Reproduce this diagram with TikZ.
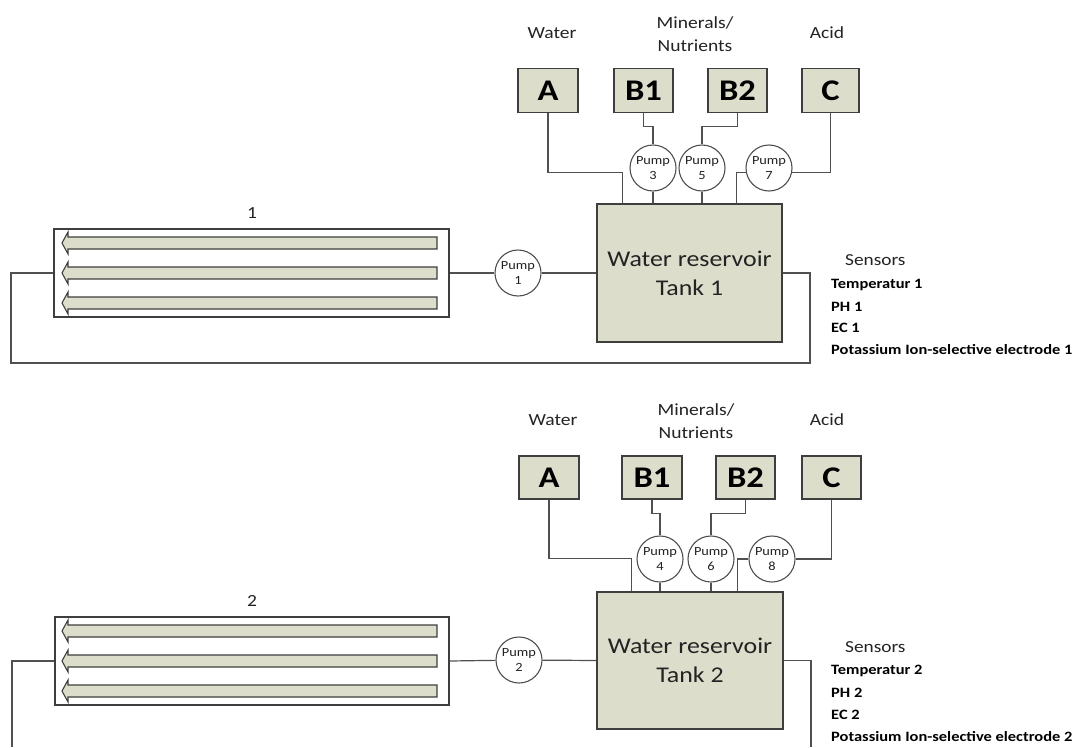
\documentclass[tikz,border=0pt]{standalone}
\usepackage{fontspec}
\setmainfont{Carlito}[FakeStretch=1.15]
\usetikzlibrary{calc}
\definecolor{boxfill}{RGB}{220,221,203}
\definecolor{linec}{RGB}{80,80,80}
\definecolor{edgec}{RGB}{62,62,62}
\definecolor{txt}{RGB}{35,35,35}
\newcommand\flowarrow[1]{\draw[flow] (437,#1-6) -- (68,#1-6) -- (68,#1-11) -- (62,#1) -- (68,#1+11) -- (68,#1+6) -- (437,#1+6) -- cycle;}
\begin{document}
\begin{tikzpicture}[x=1pt,y=-1pt,
  pipe/.style={draw=linec,line width=1.2pt},
  srcbox/.style={draw=edgec,fill=boxfill,line width=1.4pt,minimum width=59pt,minimum height=44pt,inner sep=0pt,font=\fontsize{30}{32}\selectfont\bfseries,text=black},
  pumpc/.style={circle,draw=linec,fill=white,line width=1.1pt,minimum size=46pt,inner sep=0pt,align=center,font=\fontsize{12.5}{15.5}\selectfont,text=txt},
  tankbox/.style={draw=edgec,fill=boxfill,line width=1.4pt,inner sep=0pt,align=center,font=\fontsize{22.5}{29}\selectfont,text=txt},
  gutter/.style={draw=edgec,fill=white,line width=1.2pt,inner sep=0pt,minimum width=395pt,minimum height=88pt},
  flow/.style={draw=edgec,fill=boxfill,line width=1.1pt},
  lbl/.style={font=\fontsize{17}{23}\selectfont,text=txt,inner sep=0pt,align=center},
  senshead/.style={font=\fontsize{16.8}{20}\selectfont,text=txt,inner sep=0pt,anchor=west},
  sens/.style={font=\fontsize{14.3}{16}\selectfont\bfseries,text=black,inner sep=0pt,anchor=west},
]
\useasboundingbox (0,0) rectangle (1079,747);
\fill[white] (0,0) rectangle (1079,747);

% ================= Section 1 =================
\node[lbl] (w1) at (552,33) {Water};
\node[lbl] (m1) at (695,34) {Minerals/\\Nutrients};
\node[lbl] (ac1) at (827,33) {Acid};

\node[srcbox,minimum width=60pt] (A1) at (548,90.5) {A};
\node[srcbox] (B11) at (643.5,90.5) {B1};
\node[srcbox] (B21) at (737.5,90.5) {B2};
\node[srcbox,minimum width=57pt] (C1) at (830.5,90.5) {C};

\node[pumpc] (p3) at (653,168) {Pump\\3};
\node[pumpc] (p5) at (702,168) {Pump\\5};
\node[pumpc] (p7) at (769,168) {Pump\\7};

\node[tankbox,minimum width=185pt,minimum height=138pt] (t1) at (689.5,273) {Water reservoir\\Tank 1};

\node[gutter] (g1) at (251.5,273) {};
\flowarrow{243}
\flowarrow{273}
\flowarrow{303}
\node[lbl] (n1) at (252,213) {1};

\node[pumpc] (p1) at (518,273) {Pump\\1};

\draw[pipe] (g1.east) -- (p1);
\draw[pipe] (p1) -- (t1.west);
\coordinate (r1) at (810,363);
\coordinate (l1) at (11,363);
\draw[pipe] (t1.east) -| (r1) -- (l1) |- (g1.west);

\draw[pipe] (A1.south) |- ($(t1.north west)+(26,-31)$) -- ($(t1.north west)+(26,0)$);
\draw[pipe] (B11.south) -- ++(0,13) -| (p3.north);
\draw[pipe] (B21.south) -- ++(0,13) -| (p5.north);
\draw[pipe] (C1.south) |- (p7.348);
\draw[pipe] (p7.192) -| ($(t1.north west)+(140,0)$);
\draw[pipe] (p3.south) -- (p3.south |- t1.north);
\draw[pipe] (p5.south) -- (p5.south |- t1.north);

\node[senshead] (s1) at (845,260) {Sensors};
\node[sens] (s1a) at (831,285) {Temperatur 1};
\node[sens] (s1b) at (831,307) {PH 1};
\node[sens] (s1c) at (831,328) {EC 1};
\node[sens] (s1d) at (831,350) {Potassium Ion-selective electrode 1};

% ================= Section 2 =================
\node[lbl] (w2) at (553,420) {Water};
\node[lbl] (m2) at (696,421.5) {Minerals/\\Nutrients};
\node[lbl] (ac2) at (827,420) {Acid};

\node[srcbox,minimum width=60pt,minimum height=43pt] (A2) at (549,477.5) {A};
\node[srcbox,minimum width=60pt,minimum height=43pt] (B12) at (652,477.5) {B1};
\node[srcbox,minimum height=43pt] (B22) at (745.5,477.5) {B2};
\node[srcbox,minimum height=43pt] (C2) at (831.5,477.5) {C};

\node[pumpc] (p4) at (660,559) {Pump\\4};
\node[pumpc] (p6) at (711,559) {Pump\\6};
\node[pumpc] (p8) at (772,559) {Pump\\8};

\node[tankbox,minimum width=186pt,minimum height=137pt] (t2) at (690,660.5) {Water reservoir\\Tank 2};

\node[gutter,minimum width=394pt] (g2) at (252,661) {};
\flowarrow{631}
\flowarrow{661}
\flowarrow{691}
\node[lbl] (n2) at (252,601) {2};

\node[pumpc] (p2) at (519,660) {Pump\\2};

\draw[pipe] (g2.east) -- (p2);
\draw[pipe] (p2) -- (t2.west);
\coordinate (r2) at (811,747);
\coordinate (l2) at (12,747);
\draw[pipe] (t2.east) -| (r2);
\draw[pipe] (g2.west) -| (l2);

\draw[pipe] (A2.south) |- ($(t2.north west)+(35,-33)$) -- ($(t2.north west)+(35,0)$);
\draw[pipe] (B12.south) -- ++(0,14) -| (p4.north);
\draw[pipe] (B22.south) -- ++(0,14) -| (p6.north);
\draw[pipe] (C2.south) |- (p8.east);
\draw[pipe] (p8.west) -| ($(t2.north west)+(141,0)$);
\draw[pipe] (p4.south) -- (p4.south |- t2.north);
\draw[pipe] (p6.south) -- (p6.south |- t2.north);

\node[senshead] (s2) at (845,647) {Sensors};
\node[sens] (s2a) at (831,671) {Temperatur 2};
\node[sens] (s2b) at (831,693) {PH 2};
\node[sens] (s2c) at (831,715) {EC 2};
\node[sens] (s2d) at (831,737) {Potassium Ion-selective electrode 2};
\end{tikzpicture}
\end{document}
